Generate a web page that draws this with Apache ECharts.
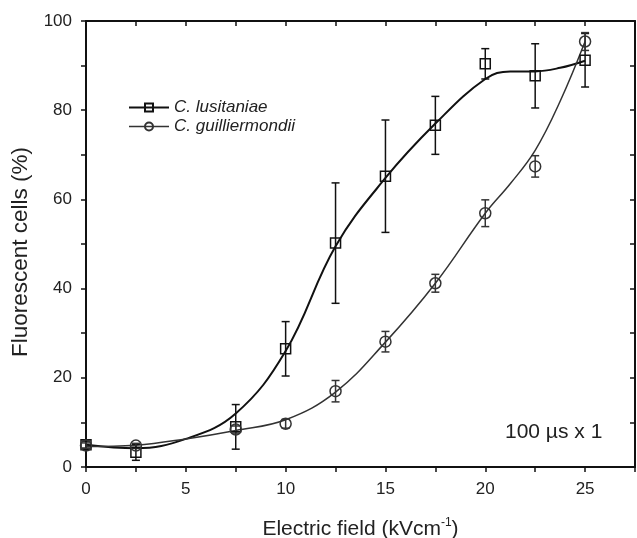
<!DOCTYPE html>
<html>
<head>
<meta charset="utf-8">
<script src="https://cdn.jsdelivr.net/npm/echarts@6/dist/echarts.min.js"></script>
<style>html,body{margin:0;padding:0;background:#fff}#c{width:637px;height:538px}</style>
</head>
<body>
<div id="c"></div>
<script>
// Electric field values (kV/cm)
const fieldX = [0, 2.5, 7.5, 10, 12.5, 15, 17.5, 20, 22.5, 25];
// C. lusitaniae (squares) mean and error
const lusMean = [5.0, 3.3, 9.0, 26.5, 50.2, 65.2, 76.6, 90.4, 87.7, 91.2];
const lusErr  = [0.8, 1.8, 5.0, 6.1, 13.5, 12.6, 6.5, 3.4, 7.2, 6.0];
// C. guilliermondii (circles) mean and error
const guiMean = [4.8, 4.8, 8.4, 9.7, 17.0, 28.1, 41.2, 56.9, 67.4, 95.4];
const guiErr  = [0.6, 0.5, 0.8, 1.0, 2.4, 2.3, 2.0, 3.0, 2.4, 2.0];
// fitted curves
const lusCurveX = [0, 2.5, 5, 7.5, 10, 12.5, 15, 17.5, 20, 21.25, 22.5, 23.75, 25];
const lusCurveY = [5.0, 4.2, 6.3, 12.0, 26.0, 49.5, 64.8, 77.0, 87.0, 88.7, 88.7, 89.5, 91.1];
const guiCurveX = [0, 2.5, 5, 7.5, 10, 12.5, 15, 17.5, 20, 21.25, 22.5, 23.75, 25];
const guiCurveY = [4.6, 4.9, 6.3, 8.2, 10.6, 16.8, 28.0, 41.2, 56.9, 63.5, 71.0, 82.0, 95.4];
const xTicks = [0, 5, 10, 15, 20, 25];
const yTicks = [0, 20, 40, 60, 80, 100];

const zip = (a, b) => a.map((v, i) => [v, b[i]]);
const errData = (m, e) => fieldX.map((x, i) => [x, m[i] - e[i], m[i] + e[i]]);

function errRender(color) {
  return function (params, api) {
    const x = api.value(0);
    const lo = api.coord([x, api.value(1)]);
    const hi = api.coord([x, api.value(2)]);
    const w = 4;
    const st = { stroke: color, lineWidth: 1.5, fill: null };
    return {
      type: 'group',
      children: [
        { type: 'line', shape: { x1: lo[0], y1: lo[1], x2: hi[0], y2: hi[1] }, style: st },
        { type: 'line', shape: { x1: lo[0] - w, y1: lo[1], x2: lo[0] + w, y2: lo[1] }, style: st },
        { type: 'line', shape: { x1: hi[0] - w, y1: hi[1], x2: hi[0] + w, y2: hi[1] }, style: st }
      ]
    };
  };
}

const FONT = '"Liberation Sans", Arial, sans-serif';
const AX = '#111';
const chart = echarts.init(document.getElementById('c'));
const xCommon = { type: 'value', min: 0, max: 27.5, interval: 2.5,
  axisLine: { show: true, onZero: false, lineStyle: { color: AX, width: 2 } },
  splitLine: { show: false } };
const yCommon = { type: 'value', min: 0, max: 100, interval: 10,
  axisLine: { show: true, onZero: false, lineStyle: { color: AX, width: 2 } },
  splitLine: { show: false } };

chart.setOption({
  animation: false,
  backgroundColor: '#fff',
  grid: { left: 86, right: 2, top: 21, bottom: 71, containLabel: false, outerBoundsMode: 'none' },
  xAxis: [
    Object.assign({}, xCommon, {
      position: 'bottom',
      axisTick: { show: true, length: 5, lineStyle: { color: AX, width: 1.5 } },
      axisLabel: { margin: 14, color: '#222', fontSize: 17, fontFamily: FONT,
        formatter: v => xTicks.includes(v) ? String(v) : '' },
      name: '{n|Electric field (kVcm}{s|-1}{n|)}',
      nameLocation: 'middle', nameGap: 50,
      nameTextStyle: {
        rich: { n: { fontSize: 21, fontFamily: FONT, color: '#222' },
                s: { fontSize: 12, fontFamily: FONT, color: '#222', verticalAlign: 'top', padding: [0, 0, 12, 0] } } }
    }),
    Object.assign({}, xCommon, {
      position: 'top',
      axisTick: { show: true, inside: true, length: 5, lineStyle: { color: AX, width: 1.5 } },
      axisLabel: { show: false }
    })
  ],
  yAxis: [
    Object.assign({}, yCommon, {
      position: 'left',
      axisTick: { show: true, length: 5, lineStyle: { color: AX, width: 1.5 } },
      axisLabel: { margin: 14, color: '#222', fontSize: 17, fontFamily: FONT,
        formatter: v => yTicks.includes(v) ? String(v) : '' },
      name: 'Fluorescent cells (%)', nameLocation: 'middle', nameGap: 51,
      nameTextStyle: { fontSize: 22.5, fontFamily: FONT, color: '#222', padding: [0, 16, 0, 0] }
    }),
    Object.assign({}, yCommon, {
      position: 'right',
      axisTick: { show: true, inside: true, length: 5, lineStyle: { color: AX, width: 1.5 } },
      axisLabel: { show: false }
    })
  ],
  legend: {
    left: 128, top: 99, orient: 'vertical', itemGap: 2, padding: 0,
    itemWidth: 40, itemHeight: 10,
    textStyle: { fontSize: 17, fontStyle: 'italic', fontFamily: FONT, color: '#222' },
    data: [
      { name: 'C. lusitaniae', lineStyle: { color: '#111', width: 2, opacity: 1 } },
      { name: 'C. guilliermondii', lineStyle: { color: '#333', width: 1.5, opacity: 1 } }
    ]
  },
  graphic: [{
    type: 'text', left: 505, top: 422,
    style: { text: '100 µs x 1', fontSize: 21, fontFamily: FONT, fill: '#222' }
  }],
  series: [
    { type: 'line', name: 'lusCurve', data: zip(lusCurveX, lusCurveY), smooth: 0.4,
      symbol: 'none', lineStyle: { color: '#111', width: 2 }, z: 2 },
    { type: 'line', name: 'guiCurve', data: zip(guiCurveX, guiCurveY), smooth: 0.4,
      symbol: 'none', lineStyle: { color: '#333', width: 1.5 }, z: 2 },
    { type: 'custom', name: 'lusErr', data: errData(lusMean, lusErr), renderItem: errRender('#111'), z: 3 },
    { type: 'custom', name: 'guiErr', data: errData(guiMean, guiErr), renderItem: errRender('#333'), z: 3 },
    { type: 'line', name: 'C. lusitaniae', data: zip(fieldX, lusMean),
      symbol: 'rect', symbolSize: 10, lineStyle: { opacity: 0 },
      itemStyle: { color: 'rgba(255,255,255,0)', borderColor: '#111', borderWidth: 1.5 }, z: 4 },
    { type: 'line', name: 'C. guilliermondii', data: zip(fieldX, guiMean),
      symbol: 'circle', symbolSize: 11, lineStyle: { opacity: 0 },
      itemStyle: { color: 'rgba(255,255,255,0)', borderColor: '#333', borderWidth: 1.5 }, z: 4 }
  ]
});
</script>
</body>
</html>
